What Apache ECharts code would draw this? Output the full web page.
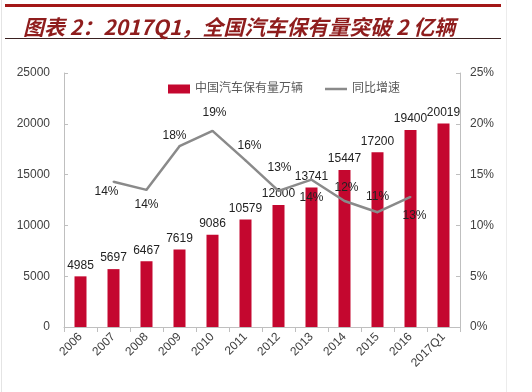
<!DOCTYPE html>
<html><head><meta charset="utf-8">
<script src="https://cdn.jsdelivr.net/npm/echarts@6/dist/echarts.min.js"></script>
<style>html,body{margin:0;padding:0;background:#fff}#c{width:532px;height:392px}</style>
</head><body><div id="c"></div>
<script>
const categories = ['2006','2007','2008','2009','2010','2011','2012','2013','2014','2015','2016','2017Q1'];
const stock = [4985,5697,6467,7619,9086,10579,12000,13741,15447,17200,19400,20019];
const growth = [null,14.3,13.5,17.8,19.3,16.4,13.4,14.5,12.4,11.3,12.8,null];
const growthLabels = ['','14%','14%','18%','19%','16%','13%','14%','12%','11%','13%',''];
const leftTicks = [0,5000,10000,15000,20000,25000];
const rightTicks = ['0%','5%','10%','15%','20%','25%'];
// label offsets (style only)
const labelOffsets = [[0,0],[-7,10],[0,15],[-5,-10],[2,-18],[4,-15],[1,-23],[0,18],[2,-13],[0,-16],[4,19],[0,0]];

const font = '"Liberation Sans", "Noto Sans CJK SC", sans-serif';
const chart = echarts.init(document.getElementById('c'));
chart.setOption({
  animation:false,
  backgroundColor:'#fff',
  title:{text:'图表 2：2017Q1，全国汽车保有量突破 2 亿辆', left:18, top:12,
    textStyle:{fontSize:21, fontStyle:'italic', fontWeight:'bold', color:'#8f1d1d', fontFamily:'"Noto Sans CJK SC", sans-serif'}},
  graphic:[
    {type:'rect', shape:{x:5,y:4,width:496,height:3}, style:{fill:'#a31717'}},
    {type:'rect', shape:{x:5,y:38,width:496,height:1}, style:{fill:'#3a2020'}},
    {type:'rect', shape:{x:1,y:0,width:1,height:392}, style:{fill:'#e4e4e4'}},
    {type:'rect', shape:{x:506,y:0,width:1,height:392}, style:{fill:'#ececec'}}
  ],
  legend:{top:78, left:163, itemGap:22, itemWidth:22, itemHeight:9,
    textStyle:{fontSize:12, color:'#595959', fontFamily:font},
    data:[{name:'中国汽车保有量万辆', icon:'rect'},
          {name:'同比增速', icon:'path://M0,4 L22,4 L22,6.5 L0,6.5 Z', itemStyle:{color:'#8a8a8a', opacity:1}}]},
  grid:{left:64, right:72, top:73, bottom:65},
  xAxis:{type:'category', data:categories, boundaryGap:true,
    axisLine:{lineStyle:{color:'#bfbfbf'}},
    axisTick:{show:true, alignWithLabel:false, length:5, lineStyle:{color:'#bfbfbf'}},
    axisLabel:{rotate:45, fontSize:12, color:'#404040', margin:8, fontFamily:font}},
  yAxis:[
    {type:'value', min:0, max:25000, interval:5000, splitLine:{show:false},
     axisLine:{show:true, lineStyle:{color:'#bfbfbf'}},
     axisTick:{show:true, inside:true, length:4, lineStyle:{color:'#bfbfbf'}},
     axisLabel:{fontSize:12, color:'#404040', margin:14, fontFamily:font,
       formatter:(v)=>String(leftTicks[Math.round(v/5000)])}},
    {type:'value', min:0, max:25, interval:5, splitLine:{show:false},
     axisLine:{show:true, lineStyle:{color:'#bfbfbf'}},
     axisTick:{show:true, inside:true, length:4, lineStyle:{color:'#bfbfbf'}},
     axisLabel:{fontSize:12, color:'#404040', margin:10, fontFamily:font,
       formatter:(v)=>rightTicks[Math.round(v/5)]}}
  ],
  series:[
    {name:'中国汽车保有量万辆', type:'bar', data:stock, barWidth:12, itemStyle:{color:'#c4072f'},
     label:{show:true, position:'top', distance:5, fontSize:12, color:'#222', fontFamily:font}},
    {name:'同比增速', type:'line', yAxisIndex:1, symbol:'circle', symbolSize:2, showSymbol:true, connectNulls:false,
     lineStyle:{color:'#8a8a8a', width:2.5}, itemStyle:{color:'#8a8a8a'},
     labelLayout:{hideOverlap:false},
     data:growth.map((v,i)=>({value:v, label:{show:v!==null,
       position:[1+labelOffsets[i][0], 1+labelOffsets[i][1]], align:'center', verticalAlign:'middle',
       formatter:growthLabels[i], fontSize:12, color:'#222', fontFamily:font}}))}
  ]
});
</script></body></html>
